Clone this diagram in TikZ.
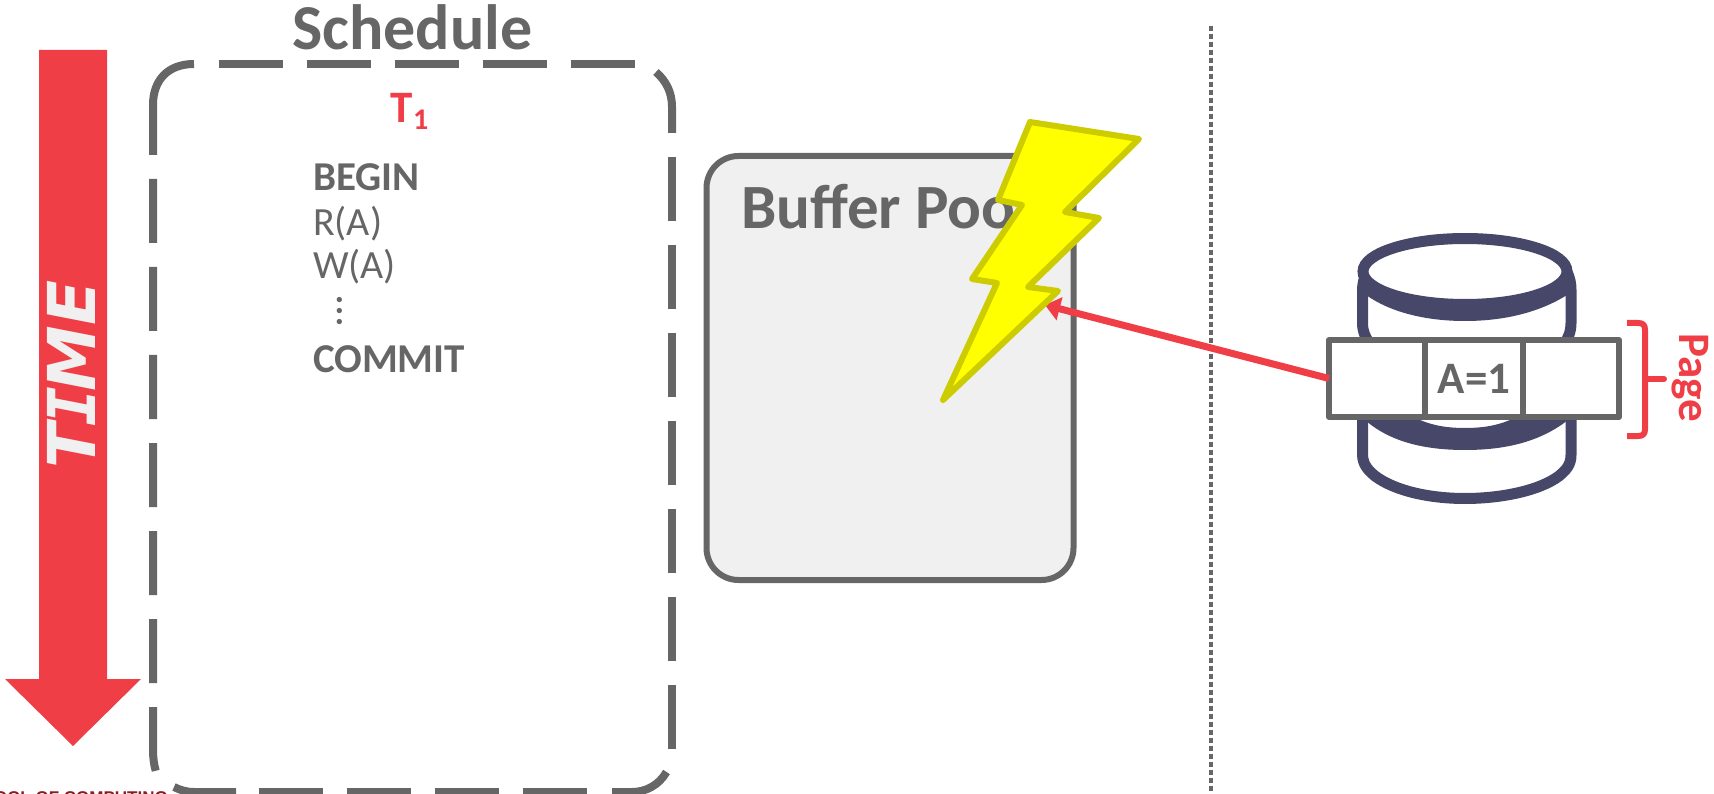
\documentclass[tikz,border=0pt]{standalone}
\usepackage{fontspec}
\setmainfont{Carlito}
\newfontfamily\timefont{DejaVu Sans}
\newfontfamily\timeifont{DejaVu Sans Mono}
\newfontfamily\footfont{Liberation Sans}
\usetikzlibrary{positioning,arrows.meta}

\definecolor{slidegray}{HTML}{666666}
\definecolor{slidered}{HTML}{EF3E45}
\definecolor{slidenavy}{HTML}{474769}
\definecolor{poolfill}{HTML}{F0F0F0}
\definecolor{boltfill}{HTML}{FFFF00}
\definecolor{boltedge}{HTML}{CCCC00}
\definecolor{footred}{HTML}{8A1C22}

\tikzset{
  schedline/.style={draw=slidegray, line width=8pt},
  cellbox/.style={draw=slidegray, fill=white, line width=6pt, minimum height=77pt, outer sep=0pt, inner sep=0pt, line join=round},
  disk/.style={draw=slidenavy, line width=11pt},
  txn/.style={anchor=base west, inner sep=0pt, outer sep=0pt, text=slidegray, font=\fontsize{40}{42}\selectfont},
  txnbold/.style={txn, font=\fontsize{41}{43}\selectfont\bfseries},
}

\begin{document}
\begin{tikzpicture}[x=1pt, y=-1pt]
  \useasboundingbox (0,0) rectangle (1714,794);
  \clip (0,0) rectangle (1714,794);

  % Time arrow
  \fill[slidered] (39,50) -- (107,50) -- (107,679) -- (141,679) -- (73,746) -- (5,679) -- (39,679) -- cycle;
  \node[rotate=90, anchor=base, inner sep=0pt, text=poolfill, font=\fontsize{66}{68}\selectfont\bfseries\itshape\timefont] (timelabel) at (95,374.5) {T\kern-3pt{\timeifont I}\kern-4pt ME};

  % Cut off footer at the lower edge
  \node[anchor=base east, inner sep=0pt, text=footred, font=\fontsize{17}{18}\selectfont\bfseries\footfont] (footer) at (168,803) {OOL OF COMPUTING};

  % Schedule box, one dash run for each side
  \draw[schedline] (153,155) -- (153,105) .. controls (153,80) and (168,64) .. (194,64);
  \draw[schedline, dash pattern=on 64pt off 24pt] (218.6,64) -- (635,64);
  \draw[schedline] (656,72) .. controls (666,81) and (672,92) .. (672,107) -- (672,133);
  \draw[schedline, dash pattern=on 64pt off 24pt] (672,157) -- (672,749);
  \draw[schedline] (666.5,772) .. controls (659,785) and (646,792) .. (632,792) -- (612,792);
  \draw[schedline, dash pattern=on 64pt off 24pt] (259,792) -- (588,792);
  \draw[schedline] (236,792) -- (194,792) .. controls (186,792) and (180,790) .. (174,787);
  \draw[schedline, dash pattern=on 64pt off 24pt] (153,179) -- (153,750) .. controls (153,758) and (154,765) .. (156,772);

  \node[anchor=base west, inner sep=0pt, text=slidegray, font=\fontsize{64}{66}\selectfont\bfseries] (schedtitle) at (292,50) {Schedule};

  % Transaction
  \node[anchor=base west, inner sep=0pt, text=slidered, font=\fontsize{45}{46}\selectfont\bfseries] (txnname) at (390,123) {T};
  \node[anchor=base west, inner sep=0pt, text=slidered, font=\fontsize{30}{32}\selectfont\bfseries] (txnindex) at (413,130) {1};
  \node[txnbold] (txnbegin) at (313,191) {BEGIN};
  \node[txn] (txnread) at (313,236) {R(A)};
  \node[txn] (txnwrite) at (313,279) {W(A)};
  \node[rotate=-90, anchor=base, inner sep=0pt, text=slidegray, font=\fontsize{44}{46}\selectfont] (txndots) at (337,311) {...};
  \node[txnbold] (txncommit) at (313,372) {COMMIT};

  % Buffer pool
  \node[draw=slidegray, fill=poolfill, line width=6pt, rounded corners=32pt, minimum width=367pt, minimum height=424pt, inner sep=0pt, outer sep=0pt] (bufferpool) at (890,368) {};
  \node[anchor=base west, inner sep=0pt, text=slidegray, font=\fontsize{63}{65}\selectfont\bfseries] (pooltitle) at (741,229) {Buffer Pool};
  \coordinate (hitpoint) at (1045,305);

  % Separator
  \draw[slidegray, line width=4.5pt, dash pattern=on 5pt off 3pt] (1211,26) -- (1211,794);

  % Disk, lower part
  \draw[disk, fill=white] (1362.5,410) -- (1362.5,455) .. controls (1363,465) and (1368,470) .. (1375,476) .. controls (1395,491) and (1430,498.5) .. (1465,498.5) .. controls (1500,498.5) and (1539,491) .. (1559,476) .. controls (1566,470) and (1571,465) .. (1571,455) -- (1571,410);
  \fill[slidenavy] (1365,420) .. controls (1390,442) and (1425,450) .. (1465,450) .. controls (1505,450) and (1540,442) .. (1568,420) -- (1525,412) .. controls (1505,425) and (1485,428) .. (1465,428) .. controls (1445,428) and (1425,425) .. (1405,412) -- cycle;

  % Disk, upper part
  \draw[disk, fill=white] (1367,272) .. controls (1364,278) and (1362.5,284) .. (1362.5,290) -- (1362.5,323) .. controls (1362.5,332) and (1366,338) .. (1370,345) -- (1564,345) .. controls (1568,338) and (1571,332) .. (1571,323) -- (1571,290) .. controls (1571,284) and (1570,278) .. (1567,272);
  \fill[slidenavy] (1366,272) -- (1366,295) .. controls (1390,312) and (1425,321) .. (1465,321) .. controls (1505,321) and (1540,312) .. (1567,295) -- (1567,272) -- cycle;
  \draw[disk, fill=white] (1465,271.5) ellipse [x radius=102, y radius=33];

  % Page on the disk
  \node[cellbox, minimum width=96pt] (pagecellA) at (1377,378.5) {};
  \node[cellbox, minimum width=98pt, right=0pt of pagecellA, text=slidegray, font=\fontsize{45}{46}\selectfont\bfseries] (pagecellB) {A=1};
  \node[cellbox, minimum width=96pt, right=0pt of pagecellB] (pagecellC) {};

  % Page brace
  \draw[slidered, line width=6pt, line join=round] (1627,323) -- (1638,323) .. controls (1643,323) and (1645,325) .. (1645,330) -- (1645,429) .. controls (1645,434) and (1643,436) .. (1638,436) -- (1627,436);
  \draw[slidered, line width=6pt, line cap=round] (1645,379) -- (1664,379);
  \node[rotate=-90, anchor=base west, inner sep=0pt, text=slidered, font=\fontsize{45}{46}\selectfont\bfseries] (pagelabel) at (1679,333) {Page};

  % Read arrow goes under the bolt
  \draw[-{Triangle[length=15pt,width=23pt]}, slidered, line width=7pt] (pagecellA.west) -- (hitpoint);

  % Lightning bolt
  \filldraw[fill=boltfill, draw=boltedge, line width=6pt, line join=round] (1030,122) -- (1139,139) -- (1065,212) -- (1099,218) -- (1028,287) -- (1058,291) -- (943,400) -- (997,283) -- (972,279) -- (1022,205) -- (998,200) -- cycle;
\end{tikzpicture}
\end{document}
